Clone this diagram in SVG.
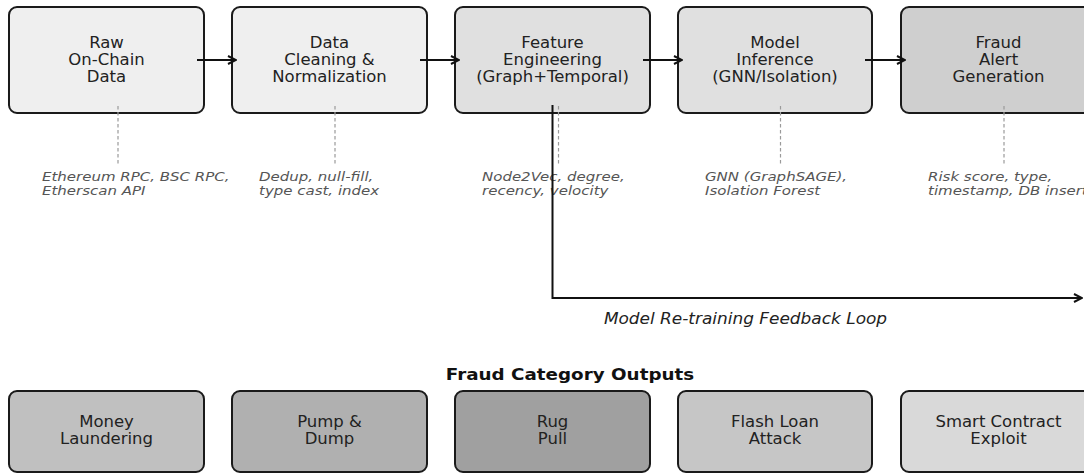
<svg xmlns="http://www.w3.org/2000/svg" width="1084" height="473" viewBox="0 0 1084 473">
<style>
.box{stroke:#1a1a1a;stroke-width:2}
.lbl{font-family:"DejaVu Sans",sans-serif;font-size:15px;fill:#222;text-anchor:middle}
.ann{font-family:"DejaVu Sans",sans-serif;font-size:12.5px;font-style:italic;fill:#555}
.dash{stroke:#9a9a9a;stroke-width:1.2;stroke-dasharray:3.5,2.5;fill:none}
.arr{stroke:#111;stroke-width:2;fill:none}
</style>
<defs>
<marker id="ah" viewBox="0 0 10 10" refX="9" refY="5" markerWidth="10" markerHeight="10" markerUnits="userSpaceOnUse" orient="auto">
<path d="M1,1 L9,5 L1,9" fill="none" stroke="#111" stroke-width="2"/>
</marker>
</defs>
<rect width="1084" height="473" fill="#fff"/>

<g id="raw">
<rect class="box" x="9" y="7" width="195" height="106" rx="8" fill="#efefef"/>
<text class="lbl" transform="translate(106.5,0) scale(1.1 1)"><tspan x="0" y="48">Raw</tspan><tspan x="0" y="65">On-Chain</tspan><tspan x="0" y="82">Data</tspan></text>
</g>
<g id="clean">
<rect class="box" x="232" y="7" width="195" height="106" rx="8" fill="#efefef"/>
<text class="lbl" transform="translate(329.5,0) scale(1.1 1)"><tspan x="0" y="48">Data</tspan><tspan x="0" y="65">Cleaning &amp;</tspan><tspan x="0" y="82">Normalization</tspan></text>
</g>
<g id="feature">
<rect class="box" x="455" y="7" width="195" height="106" rx="8" fill="#e0e0e0"/>
<text class="lbl" transform="translate(552.5,0) scale(1.1 1)"><tspan x="0" y="48">Feature</tspan><tspan x="0" y="65">Engineering</tspan><tspan x="0" y="82">(Graph+Temporal)</tspan></text>
</g>
<g id="model">
<rect class="box" x="678" y="7" width="194" height="106" rx="8" fill="#e0e0e0"/>
<text class="lbl" transform="translate(775,0) scale(1.1 1)"><tspan x="0" y="48">Model</tspan><tspan x="0" y="65">Inference</tspan><tspan x="0" y="82">(GNN/Isolation)</tspan></text>
</g>
<g id="alert">
<rect class="box" x="901" y="7" width="195" height="106" rx="8" fill="#cfcfcf"/>
<text class="lbl" transform="translate(998.5,0) scale(1.1 1)"><tspan x="0" y="48">Fraud</tspan><tspan x="0" y="65">Alert</tspan><tspan x="0" y="82">Generation</tspan></text>
</g>

<g id="annotations">
<line class="dash" x1="118" y1="106" x2="118" y2="165"/>
<line class="dash" x1="335" y1="106" x2="335" y2="165"/>
<line class="dash" x1="558.5" y1="106" x2="558.5" y2="165"/>
<line class="dash" x1="780.5" y1="106" x2="780.5" y2="165"/>
<line class="dash" x1="1004" y1="106" x2="1004" y2="165"/>
<text class="ann" transform="translate(42,0) scale(1.2 1)"><tspan x="0" y="181">Ethereum RPC, BSC RPC,</tspan><tspan x="0" y="195.5">Etherscan API</tspan></text>
<text class="ann" transform="translate(259,0) scale(1.2 1)"><tspan x="0" y="181">Dedup, null-fill,</tspan><tspan x="0" y="195.5">type cast, index</tspan></text>
<text class="ann" transform="translate(482,0) scale(1.2 1)"><tspan x="0" y="181">Node2Vec, degree,</tspan><tspan x="0" y="195.5">recency, velocity</tspan></text>
<text class="ann" transform="translate(705,0) scale(1.2 1)"><tspan x="0" y="181">GNN (GraphSAGE),</tspan><tspan x="0" y="195.5">Isolation Forest</tspan></text>
<text class="ann" transform="translate(928,0) scale(1.2 1)"><tspan x="0" y="181">Risk score, type,</tspan><tspan x="0" y="195.5">timestamp, DB insert</tspan></text>
</g>

<g id="connectors">
<line class="arr" x1="197" y1="60" x2="236" y2="60" marker-end="url(#ah)"/>
<line class="arr" x1="420" y1="60" x2="459" y2="60" marker-end="url(#ah)"/>
<line class="arr" x1="643" y1="60" x2="682" y2="60" marker-end="url(#ah)"/>
<line class="arr" x1="865" y1="60" x2="905" y2="60" marker-end="url(#ah)"/>
<polyline class="arr" points="552.5,105 552.5,298 1082,298" marker-end="url(#ah)"/>
</g>
<text transform="translate(745.5,0) scale(1.1 1)" y="324" font-family="DejaVu Sans, sans-serif" font-size="15.4" font-style="italic" fill="#222" text-anchor="middle">Model Re-training Feedback Loop</text>

<text transform="translate(570,0) scale(1.145 1)" y="380" font-family="DejaVu Sans, sans-serif" font-size="16" font-weight="bold" fill="#111" text-anchor="middle">Fraud Category Outputs</text>

<g id="money">
<rect class="box" x="9" y="391" width="195" height="81" rx="8" fill="#c0c0c0"/>
<text class="lbl" transform="translate(106.5,0) scale(1.1 1)"><tspan x="0" y="427">Money</tspan><tspan x="0" y="444">Laundering</tspan></text>
</g>
<g id="pump">
<rect class="box" x="232" y="391" width="195" height="81" rx="8" fill="#b0b0b0"/>
<text class="lbl" transform="translate(329.5,0) scale(1.1 1)"><tspan x="0" y="427">Pump &amp;</tspan><tspan x="0" y="444">Dump</tspan></text>
</g>
<g id="rug">
<rect class="box" x="455" y="391" width="195" height="81" rx="8" fill="#a0a0a0"/>
<text class="lbl" transform="translate(552.5,0) scale(1.1 1)"><tspan x="0" y="427">Rug</tspan><tspan x="0" y="444">Pull</tspan></text>
</g>
<g id="flash">
<rect class="box" x="678" y="391" width="194" height="81" rx="8" fill="#c6c6c6"/>
<text class="lbl" transform="translate(775,0) scale(1.1 1)"><tspan x="0" y="427">Flash Loan</tspan><tspan x="0" y="444">Attack</tspan></text>
</g>
<g id="smart">
<rect class="box" x="901" y="391" width="195" height="81" rx="8" fill="#d9d9d9"/>
<text class="lbl" transform="translate(998.5,0) scale(1.1 1)"><tspan x="0" y="427">Smart Contract</tspan><tspan x="0" y="444">Exploit</tspan></text>
</g>
</svg>
